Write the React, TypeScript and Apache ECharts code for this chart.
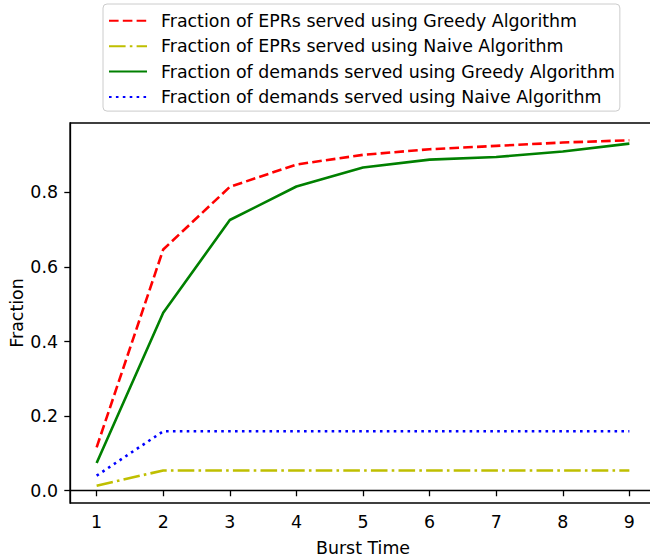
import React, { useEffect, useRef } from "react";
import * as echarts from "echarts";

const burstTimes = [1, 2, 3, 4, 5, 6, 7, 8, 9];
const eprGreedy = [0.116, 0.647, 0.815, 0.875, 0.901, 0.916, 0.925, 0.934, 0.94];
const eprNaive = [0.013, 0.054, 0.054, 0.054, 0.054, 0.054, 0.054, 0.054, 0.054];
const demandGreedy = [0.074, 0.477, 0.726, 0.816, 0.867, 0.888, 0.895, 0.91, 0.931];
const demandNaive = [0.04, 0.159, 0.159, 0.159, 0.159, 0.159, 0.159, 0.159, 0.159];
const xTicks = [1, 2, 3, 4, 5, 6, 7, 8, 9];
const yTicks = [0, 0.2, 0.4, 0.6, 0.8];

const seriesNames = [
  "Fraction of EPRs served using Greedy Algorithm",
  "Fraction of EPRs served using Naive Algorithm",
  "Fraction of demands served using Greedy Algorithm",
  "Fraction of demands served using Naive Algorithm",
];

const FONT = "DejaVu Sans";
const FS = 17.4;

export default function App() {
  const ref = useRef<HTMLDivElement>(null);
  useEffect(() => {
    if (!ref.current) return;
    const chart = echarts.init(ref.current, null, { renderer: "svg" });
    const pairs = (ys: number[]) => burstTimes.map((x, i) => [x, ys[i]]);
    const mk = (name: string, ys: number[], color: string, type: any) => ({
      name,
      type: "line",
      data: pairs(ys),
      symbol: "none",
      showSymbol: false,
      lineStyle: { color, width: 2.6, type, cap: "butt" },
      itemStyle: { color },
      z: 3,
    });
    chart.setOption({
      animation: false,
      backgroundColor: "#ffffff",
      textStyle: { fontFamily: FONT },
      grid: {
        left: 70,
        top: 123,
        width: 586,
        height: 380,
        show: true,
        borderColor: "#000000",
        borderWidth: 1.3,
        backgroundColor: "transparent",
        containLabel: false,
        outerBoundsMode: "none",
      },
      legend: {
        orient: "vertical",
        left: 103,
        top: 4,
        padding: [8.3, 5, 5.6, 5],
        itemWidth: 38,
        itemHeight: 16,
        itemGap: 8.4,
        backgroundColor: "#ffffff",
        borderColor: "#cccccc",
        borderWidth: 1,
        borderRadius: 4,
        itemStyle: { opacity: 0 },
        textStyle: {
          fontFamily: FONT,
          fontSize: FS,
          color: "#000000",
          padding: [0, 0, 0, 9],
        },
        data: seriesNames,
      },
      xAxis: {
        type: "value",
        min: 0.6,
        max: 9.4,
        name: "Burst Time",
        nameLocation: "middle",
        nameGap: 36,
        nameMoveOverlap: false,
        nameTextStyle: { fontFamily: FONT, fontSize: FS, color: "#000000" },
        axisLine: { show: true, lineStyle: { color: "#000000", width: 1.3 } },
        axisTick: {
          show: true,
          length: 5.7,
          lineStyle: { color: "#000000", width: 1.3 },
          customValues: xTicks,
        },
        axisLabel: {
          fontFamily: FONT,
          fontSize: FS,
          color: "#000000",
          margin: 10,
          customValues: xTicks,
          formatter: (v: number) => String(v),
        },
        splitLine: { show: false },
      },
      yAxis: {
        type: "value",
        min: -0.0334,
        max: 0.9864,
        name: "Fraction",
        nameLocation: "middle",
        nameGap: 45,
        nameMoveOverlap: false,
        nameTextStyle: { fontFamily: FONT, fontSize: FS, color: "#000000" },
        axisLine: { show: true, lineStyle: { color: "#000000", width: 1.3 } },
        axisTick: {
          show: true,
          length: 5.7,
          lineStyle: { color: "#000000", width: 1.3 },
          customValues: yTicks,
        },
        axisLabel: {
          fontFamily: FONT,
          fontSize: FS,
          color: "#000000",
          margin: 12,
          customValues: yTicks,
          formatter: (v: number) => v.toFixed(1),
        },
        splitLine: { show: false },
      },
      series: [
        mk(seriesNames[0], eprGreedy, "#ff0000", [9.6, 4.2]),
        mk(seriesNames[1], eprNaive, "#bfbf00", [16.6, 4.2, 2.6, 4.2]),
        mk(seriesNames[2], demandGreedy, "#008000", "solid"),
        mk(seriesNames[3], demandNaive, "#0000ff", [2.6, 4.3]),
      ],
    });
    return () => chart.dispose();
  }, []);
  return (
    <div
      ref={ref}
      style={{ position: "absolute", left: 0, top: 0, width: 650, height: 559 }}
    />
  );
}
